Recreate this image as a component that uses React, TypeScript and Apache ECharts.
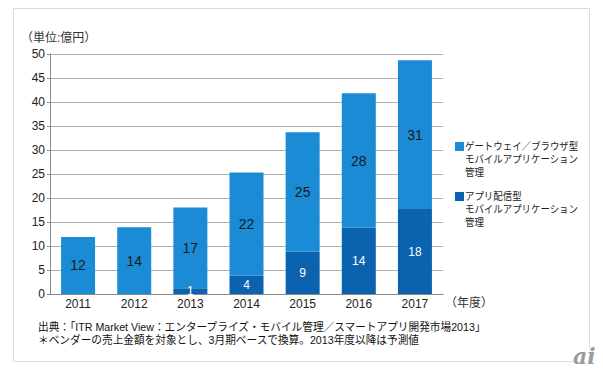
import React, { useEffect, useRef } from "react";
import * as echarts from "echarts";

const categories = ["2011", "2012", "2013", "2014", "2015", "2016", "2017"];
const appDistName = "アプリ配信型\nモバイルアプリケーション\n管理";
const gatewayName = "ゲートウェイ／ブラウザ型\nモバイルアプリケーション\n管理";
const appDistValues = [0, 0, 1.2, 3.8, 8.8, 13.8, 17.7];
const gatewayValues = [11.9, 13.9, 16.8, 21.5, 24.9, 28.0, 31.0];
const unitLabel = "（単位:億円）";
const yearLabel = "（年度）";
const sourceLine1 = "出典：「ITR Market View：エンタープライズ・モバイル管理／スマートアプリ開発市場2013」";
const sourceLine2 = "＊ベンダーの売上金額を対象とし、3月期ベースで換算。2013年度以降は予測値";

const FONT = "'Liberation Sans', 'Noto Sans CJK JP', sans-serif";
const LIGHT = "#1c8bd5";
const DARK = "#0b63b0";

export default function App() {
  const ref = useRef<HTMLDivElement>(null);
  useEffect(() => {
    document.body.style.margin = "0";
    const chart = echarts.init(ref.current!, null, { renderer: "svg" });
    const legendItems = [
      { name: gatewayName, color: LIGHT, top: 140 },
      { name: appDistName, color: DARK, top: 190 },
    ];
    const graphic: any[] = [
      {
        type: "rect",
        shape: { x: 13.5, y: 8.5, width: 576, height: 353 },
        style: { fill: "none", stroke: "#dcdcdc", lineWidth: 1 },
        silent: true,
      },
      {
        type: "text",
        x: 21,
        y: 38,
        style: { text: unitLabel, font: `12px ${FONT}`, fill: "#333", verticalAlign: "middle" },
      },
      {
        type: "text",
        x: 445,
        y: 303,
        style: { text: yearLabel, font: `12px ${FONT}`, fill: "#333", verticalAlign: "middle" },
      },
      {
        type: "text",
        x: 38,
        y: 327,
        scaleX: 0.97,
        style: { text: sourceLine1, font: `11px ${FONT}`, fill: "#111", verticalAlign: "middle" },
      },
      {
        type: "text",
        x: 38,
        y: 340,
        scaleX: 0.97,
        style: { text: sourceLine2, font: `11px ${FONT}`, fill: "#111", verticalAlign: "middle" },
      },
      {
        type: "rect",
        shape: { x: 573, y: 348, width: 30, height: 31 },
        style: { fill: "#fff" },
      },
      {
        type: "text",
        x: 573,
        y: 345,
        style: { text: "ai", font: `italic bold 22px 'DejaVu Serif', serif`, fill: "#9a9a9a" },
      },
    ];
    legendItems.forEach((it) => {
      graphic.push({
        type: "rect",
        shape: { x: 455, y: it.top + 2, width: 9, height: 9 },
        style: { fill: it.color },
      });
      graphic.push({
        type: "text",
        x: 465,
        y: it.top,
        scaleX: 0.9,
        style: { text: it.name, font: `10.5px ${FONT}`, fill: "#222", lineHeight: 13 },
      });
    });

    chart.setOption({
      animation: false,
      textStyle: { fontFamily: FONT },
      grid: { left: 50, top: 54, width: 393, height: 240, containLabel: false },
      xAxis: {
        type: "category",
        data: categories,
        axisLine: { lineStyle: { color: "#888" } },
        axisTick: { show: false },
        axisLabel: { color: "#222", fontSize: 12, margin: 4 },
      },
      yAxis: {
        type: "value",
        min: 0,
        max: 50,
        interval: 5,
        axisLine: { show: true, lineStyle: { color: "#888" } },
        axisTick: { show: true, length: 3, lineStyle: { color: "#888" } },
        splitLine: { lineStyle: { color: "#b0b0b0" } },
        axisLabel: { color: "#222", fontSize: 12, margin: 5 },
      },
      series: [
        {
          name: appDistName,
          type: "bar",
          stack: "total",
          barWidth: 34,
          data: appDistValues,
          itemStyle: { color: DARK },
          label: {
            show: true,
            position: "inside",
            color: "#fff",
            fontSize: 12,
            formatter: (p: any) => (p.value > 0 ? String(Math.round(p.value)) : ""),
          },
        },
        {
          name: gatewayName,
          type: "bar",
          stack: "total",
          barWidth: 34,
          data: gatewayValues,
          itemStyle: { color: LIGHT },
          label: {
            show: true,
            position: "inside",
            color: "#1a1a1a",
            fontSize: 14,
            formatter: (p: any) => String(Math.round(p.value)),
          },
        },
      ],
      graphic,
    });
    return () => chart.dispose();
  }, []);
  return <div ref={ref} style={{ width: 603, height: 379 }} />;
}
